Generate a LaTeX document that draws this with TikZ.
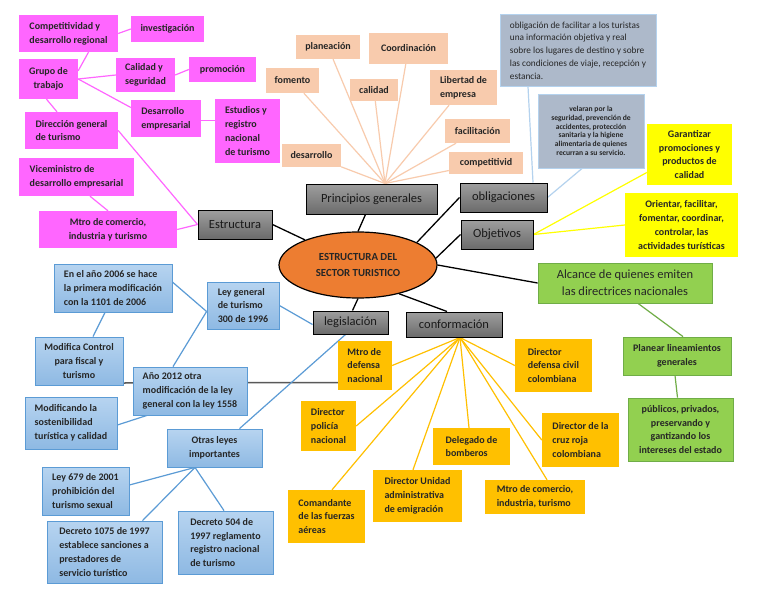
\documentclass[tikz,border=0pt]{standalone}
\usepackage{fontspec}
\setmainfont{Carlito}
\usetikzlibrary{shapes.geometric}

\definecolor{txt}{HTML}{262626}
\definecolor{pinkfill}{HTML}{FF66FF}
\definecolor{peachfill}{HTML}{F8CBAD}
\definecolor{oblfill}{HTML}{ADB9CA}
\definecolor{oblline}{HTML}{B4D2EE}
\definecolor{yellowfill}{HTML}{FFFF00}
\definecolor{greenfill}{HTML}{92D050}
\definecolor{greenline}{HTML}{70AD47}
\definecolor{orangefill}{HTML}{FFC000}
\definecolor{bluetop}{HTML}{B7D4F0}
\definecolor{bluebot}{HTML}{8EB9E3}
\definecolor{blueline}{HTML}{5B9BD5}
\definecolor{ellfill}{HTML}{ED7D31}

\pgfdeclarelayer{bg}
\pgfsetlayers{bg,main}

\begin{document}
\begin{tikzpicture}[x=1pt,y=-1pt,
    box/.style 2 args={minimum width=#1pt, minimum height=#2pt, inner sep=2pt, text=txt},
    small/.style={font=\fontsize{10}{13.8}\selectfont\bfseries},
    pinkbox/.style={fill=pinkfill, small},
    peachbox/.style={fill=peachfill, small, align=left},
    graybox/.style={draw=black, line width=1pt, top color=black!38, bottom color=black!58,
        font=\fontsize{12.5}{15}\selectfont},
    oblbox/.style={fill=oblfill, draw=oblline, line width=1pt},
    yellowbox/.style={fill=yellowfill, small, align=center},
    greenbox/.style={fill=greenfill, draw=greenline, line width=0.8pt, small, align=center},
    orangebox/.style={fill=orangefill, small, align=left},
    bluebox/.style={top color=bluetop, bottom color=bluebot, draw=blueline, line width=0.8pt, small},
    pinkline/.style={draw=pinkfill, line width=1.2pt},
    peachline/.style={draw=peachfill, line width=1.2pt},
    oblconn/.style={draw=oblline, line width=1.2pt},
    yellowline/.style={draw=yellowfill, line width=1.2pt},
    greenconn/.style={draw=greenline, line width=1.2pt},
    orangeline/.style={draw=orangefill, line width=1.2pt},
    blueconn/.style={draw=blueline, line width=1.2pt},
    mainline/.style={draw=black, line width=1.3pt}
]
    % Bounding box
    \useasboundingbox (0,0) rectangle (768,594);

    % Central ellipse
    \node[ellipse, draw=black, line width=1.2pt, fill=ellfill, minimum width=158pt, minimum height=66pt,
        inner sep=0pt, align=center, font=\fontsize{10.8}{16}\selectfont\bfseries, text=txt]
        (ell) at (358,265) {ESTRUCTURA DEL\\SECTOR TURISTICO};

    % Main branches
    \node[graybox, box={74}{29}, text=black!90] (estr) at (235,224.5) {Estructura};
    \node[graybox, box={131}{30}, text=black!90] (princ) at (371.5,199) {Principios generales};
    \node[graybox, box={87}{29}, text=black!90] (oblig) at (503.5,197.5) {obligaciones};
    \node[graybox, box={72}{29}, text=black!90] (objet) at (497,234.5) {Objetivos};
    \node[graybox, box={75}{23}, text=black!90] (legis) at (350.5,322.5) {legislación};
    \node[graybox, box={96}{25}, text=black!90] (conf) at (454,324.5) {conformación};
    \node[greenbox, box={174}{40}, font=\fontsize{12.5}{17}\selectfont] (alc) at (625,283)
        {Alcance de quienes emiten\\las directrices nacionales};

    % Estructura (pink)
    \node[pinkbox, box={99}{37}, align=left] (comp) at (68.5,33.5) {Competitividad y\\desarrollo regional};
    \node[pinkbox, box={73}{26}] (inv) at (167.5,29) {investigación};
    \node[pinkbox, box={59}{40}, align=center] (grupo) at (48.5,79) {Grupo de\\trabajo};
    \node[pinkbox, box={59}{34}, align=left] (calseg) at (145.5,75) {Calidad y\\seguridad};
    \node[pinkbox, box={67}{25}] (promo) at (222.5,69.5) {promoción};
    \node[pinkbox, box={70}{37}, align=left] (desemp) at (166,118.5) {Desarrollo\\empresarial};
    \node[pinkbox, box={65}{64}, align=left] (estud) at (247.5,131) {Estudios y\\registro\\nacional\\de turismo};
    \node[pinkbox, box={93}{37}, align=left] (dirgen) at (71.5,130.5) {Dirección general\\de turismo};
    \node[pinkbox, box={115}{38}, align=left] (vice) at (76.5,177) {Viceministro de\\desarrollo empresarial};
    \node[pinkbox, box={138}{37}, align=center] (mtro) at (108,229.5) {Mtro de comercio,\\industria y turismo};

    % Principios generales (peach)
    \node[peachbox, box={64}{24}] (plan) at (328,47) {planeación};
    \node[peachbox, box={79}{31}] (coord) at (408.5,48.5) {Coordinación};
    \node[peachbox, box={53}{25}] (fom) at (292.5,80.5) {fomento};
    \node[peachbox, box={48}{22}] (cal) at (374,90) {calidad};
    \node[peachbox, box={67}{35}] (lib) at (463.5,87.5) {Libertad de\\empresa};
    \node[peachbox, box={65}{24}] (fac) at (477.5,131) {facilitación};
    \node[peachbox, box={59}{23}] (desa) at (311.5,155.5) {desarrollo};
    \node[peachbox, box={74}{22}] (compet) at (486,163) {competitivid};
    \coordinate (pg) at ([xshift=13.5pt]princ.north);

    % obligaciones
    \node[oblbox, box={156}{71}, align=left, font=\fontsize{9.3}{12.7}\selectfont] (obl1) at (578,50.5)
        {obligación de facilitar a los turistas\\una información objetiva y real\\sobre los lugares de destino y sobre\\las condiciones de viaje, recepción y\\estancia.};
    \node[oblbox, box={106}{74}, align=center, font=\fontsize{7.6}{8.7}\selectfont\bfseries] (obl2) at (591,131)
        {velaran por la\\seguridad, prevención de\\accidentes, protección\\sanitaria y la higiene\\alimentaria de quienes\\recurran a su servicio.};

    % Objetivos (yellow)
    \node[yellowbox, box={85}{61}] (gar) at (689.5,154.5) {Garantizar\\promociones y\\productos de\\calidad};
    \node[yellowbox, box={113}{64}] (ori) at (681.5,225) {Orientar, facilitar,\\fomentar, coordinar,\\controlar, las\\actividades turísticas};

    % Alcance (green)
    \node[greenbox, box={108}{38}] (plin) at (677,356) {Planear lineamientos\\generales};
    \node[greenbox, box={105}{63}] (pub) at (680.5,429.5) {públicos, privados,\\preservando y\\gantizando los\\intereses del estado};

    % conformación (orange)
    \node[orangebox, box={54}{49}] (mdef) at (365,365.5) {Mtro de\\defensa\\nacional};
    \node[orangebox, box={77}{53}] (dciv) at (553.5,365.5) {Director\\defensa civil\\colombiana};
    \node[orangebox, box={55}{50}] (pol) at (328.5,426) {Director\\policía\\nacional};
    \node[orangebox, box={77}{37}] (bomb) at (471.5,446.5) {Delegado de\\bomberos};
    \node[orangebox, box={77}{54}] (cruz) at (580.5,440) {Director de la\\cruz roja\\colombiana};
    \node[orangebox, box={89}{52}] (unid) at (417.5,496) {Director Unidad\\administrativa\\de emigración};
    \node[orangebox, box={100}{34}] (mcom) at (535,497) {Mtro de comercio,\\industria, turismo};
    \node[orangebox, box={77}{53}] (coman) at (326.5,516.5) {Comandante\\de las fuerzas\\aéreas};
    \coordinate (cf) at ([xshift=6pt]conf.south);

    % legislación (blue)
    \node[bluebox, box={118}{48}, align=left] (e2006) at (113,288) {En el año 2006 se hace\\la primera modificación\\con la 1101 de 2006};
    \node[bluebox, box={72}{47}, align=left] (leygen) at (243,305.5) {Ley general\\de turismo\\300 de 1996};
    \node[bluebox, box={88}{48}, align=center] (modctl) at (79,361) {Modifica Control\\para fiscal y\\turismo};
    \node[bluebox, box={114}{48}, align=left] (a2012) at (190,391) {Año 2012 otra\\modificación de la ley\\general con la ley 1558};
    \node[bluebox, box={92}{52}, align=left] (modsost) at (71,423) {Modificando la\\sostenibilidad\\turística y calidad};
    \node[bluebox, box={95}{38}, align=center] (otras) at (214.5,448) {Otras leyes\\importantes};
    \node[bluebox, box={87}{48}, align=left] (ley679) at (85.5,491) {Ley 679 de 2001\\prohibición del\\turismo sexual};
    \node[bluebox, box={115}{62}, align=left] (d1075) at (104.5,552) {Decreto 1075 de 1997\\establece sanciones a\\prestadores de\\servicio turístico};
    \node[bluebox, box={95}{63}, align=left] (d504) at (225.5,542.5) {Decreto 504 de\\1997 reglamento\\registro nacional\\de turismo};
    \coordinate (ot) at ([xshift=-19.5pt]otras.south);

    \begin{pgfonlayer}{bg}
    \fill[white] (0,0) rectangle (768,594);

    % Connectors from the center
    \draw[mainline] (estr.east) -- (ell);
    \draw[mainline] ([xshift=-6pt]princ.south) -- (ell.north);
    \draw[mainline] (oblig.west) -- (ell.21);
    \draw[mainline] (objet.west) -- (ell.5);
    \draw[mainline] (ell.east) -- (alc.west);
    \draw[mainline] (ell.south) -- ([xshift=2pt]legis.north);
    \draw[mainline] (ell.-35) -- ([xshift=-7pt]conf.north);

    % Estructura lines
    \draw[pinkline] (comp.east) -- (inv.west);
    \draw[pinkline] ([xshift=20pt]comp.south) -- ([yshift=-12pt]grupo.north east);
    \draw[pinkline] (grupo.east) -- (calseg.west);
    \draw[pinkline] (grupo.east) -- ([yshift=11pt]desemp.west);
    \draw[pinkline] (calseg.east) -- (promo.west);
    \draw[pinkline] ([yshift=-2pt]desemp.east) -- ([yshift=-2pt]desemp.east -| estud.west);
    \draw[pinkline] ([xshift=-2pt]grupo.south) -- ([xshift=-14.5pt]dirgen.north);
    \draw[pinkline] (dirgen.east) -- (estr.west);
    \draw[pinkline] ([xshift=13.5pt]vice.south) -- (mtro.north);
    \draw[pinkline] (mtro.east) -- (estr.west);

    % Principios lines
    \foreach \p in {plan,coord,fom,cal,lib,fac,desa,compet}
        \draw[peachline] (\p) -- (pg);

    % obligaciones and Objetivos lines
    \draw[oblconn] ([xshift=-50pt]obl1.south) -- ([xshift=29.5pt]oblig.north);
    \draw[oblconn] ([xshift=-9pt]obl2.south) -- (oblig.east);
    \draw[yellowline] (objet.east) -- ([yshift=-18pt]gar.west);
    \draw[yellowline] (objet.east) -- (ori.west);

    % Alcance lines
    \draw[greenconn] ([xshift=13pt]alc.south) -- ([xshift=6pt]plin.north);
    \draw[greenconn] ([xshift=-2pt]plin.south) -- ([xshift=-3pt]pub.north);

    % conformación lines
    \draw[orangeline] (mdef.east) -- (cf);
    \draw[orangeline] (dciv.west) -- (cf);
    \draw[orangeline] (pol.east) -- (cf);
    \draw[orangeline] ([xshift=-2.5pt]bomb.north) -- (cf);
    \draw[orangeline] (cruz.west) -- (cf);
    \draw[orangeline] ([xshift=-4.5pt]unid.north) -- (cf);
    \draw[orangeline] ([xshift=12pt]mcom.north) -- (cf);
    \draw[orangeline] ([xshift=5.5pt]coman.north) -- (cf);

    % legislación lines
    \draw[draw=black!65, line width=1.5pt] ([yshift=-22pt]modctl.east) -- ([yshift=-17pt]mdef.west);
    \draw[blueconn] (leygen.east) -- ([yshift=-2pt]legis.west);
    \draw[blueconn] ([yshift=6pt]e2006.east) -- ([yshift=-6pt]leygen.west);
    \draw[blueconn] ([xshift=-17pt]a2012.north) -- ([yshift=-6pt]leygen.west);
    \draw[blueconn] ([xshift=-8pt]e2006.south) -- ([xshift=14pt]modctl.north);
    \draw[blueconn] ([xshift=-43pt]a2012.south) -- ([yshift=-2pt]modsost.east);
    \draw[blueconn] ([xshift=-5pt]legis.south) -- ([xshift=25pt]otras.north);
    \draw[blueconn] (ot) -- ([yshift=6pt]ley679.east);
    \draw[blueconn] (ot) -- ([xshift=38pt]d1075.north);
    \draw[blueconn] (ot) -- ([xshift=-1.5pt]d504.north);
    \end{pgfonlayer}

\end{tikzpicture}
\end{document}
